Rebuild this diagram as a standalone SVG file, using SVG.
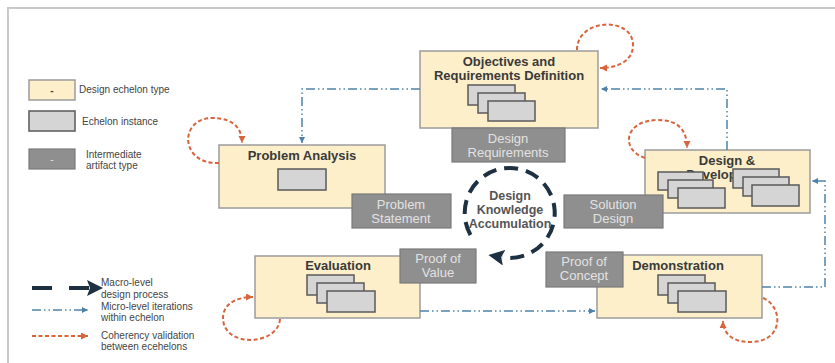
<svg xmlns="http://www.w3.org/2000/svg" width="835" height="363" viewBox="0 0 835 363">
<style>
.echelon{fill:#fcefc9;stroke:#9c9c9c;stroke-width:1.5}
.card{fill:#d5d5d5;stroke:#5a5a5a;stroke-width:1.5}
.artifact{fill:#8f8f8f;stroke:#7a7a7a;stroke-width:1.2}
.title{font-family:"Liberation Sans",Arial,sans-serif;font-size:13px;font-weight:bold;fill:#3a3a3a;text-anchor:middle}
.atext{font-family:"Liberation Sans",Arial,sans-serif;font-size:13px;fill:#e2e2e2;text-anchor:middle}
.ctext{font-family:"Liberation Sans",Arial,sans-serif;font-size:12.5px;font-weight:bold;fill:#555;text-anchor:middle}
.legend{font-family:"Liberation Sans",Arial,sans-serif;font-size:10px;fill:#444}
.micro{fill:none;stroke:#4f82a8;stroke-width:1.5;stroke-dasharray:9 3 1.5 3 1.5 3}
.coh{fill:none;stroke:#d8643e;stroke-width:2;stroke-dasharray:4 2.5}
.macro{fill:none;stroke:#1d3142;stroke-width:4}
</style>
<defs>
<marker id="mBlue" markerUnits="userSpaceOnUse" markerWidth="8" markerHeight="8" refX="6" refY="3" orient="auto"><path d="M0,0 L6,3 L0,6 z" fill="#4f82a8"/></marker>
<marker id="mOrange" markerUnits="userSpaceOnUse" markerWidth="9" markerHeight="9" refX="7" refY="3.5" orient="auto"><path d="M0,0 L7,3.5 L0,7 z" fill="#d8643e"/></marker>
<marker id="mDark" markerUnits="userSpaceOnUse" markerWidth="18" markerHeight="16" refX="2" refY="8" orient="auto"><path d="M0,0 L16,8 L0,16 L3,8 z" fill="#1d3142"/></marker>
</defs>
<rect x="8" y="8" width="850" height="380" fill="none" stroke="#c9c9c9" stroke-width="2"/>

<g id="legend">
<rect x="29" y="80" width="46" height="20" class="echelon"/>
<text x="52" y="94" class="legend" text-anchor="middle" style="font-weight:bold">-</text>
<text x="79" y="93" class="legend">Design echelon type</text>
<rect x="29" y="111" width="46" height="20" class="card"/>
<text x="82" y="125" class="legend">Echelon instance</text>
<rect x="29" y="149" width="46" height="20" class="artifact"/>
<text x="52" y="163" class="legend" text-anchor="middle" style="fill:#e2e2e2">-</text>
<text x="86" y="158" class="legend">Intermediate</text>
<text x="86" y="169" class="legend">artifact type</text>
<path d="M32,288 L89,288" class="macro" stroke-dasharray="20 17" marker-end="url(#mDark)"/>
<text x="101" y="286" class="legend">Macro-level</text>
<text x="101" y="298" class="legend">design process</text>
<path d="M32,310 L88,310" class="micro" marker-end="url(#mBlue)"/>
<text x="101" y="310" class="legend">Micro-level iterations</text>
<text x="101" y="321" class="legend">within echelon</text>
<path d="M32,336 L88,336" class="coh" marker-end="url(#mOrange)"/>
<text x="101" y="339" class="legend">Coherency validation</text>
<text x="101" y="350" class="legend">between ecehelons</text>
</g>

<g id="objectives">
<rect x="420" y="51" width="178" height="77" class="echelon"/>
<text x="509" y="66" class="title">Objectives and</text>
<text x="509" y="80" class="title">Requirements Definition</text>
<rect x="468" y="85" width="47" height="20" class="card"/>
<rect x="478" y="93" width="47" height="20" class="card"/>
<rect x="488" y="101" width="47" height="20" class="card"/>
</g>
<g id="design-requirements">
<rect x="452" y="128" width="113" height="34" class="artifact"/>
<text x="508" y="143" class="atext">Design</text>
<text x="508" y="157" class="atext">Requirements</text>
</g>

<g id="problem-analysis">
<rect x="219" y="145" width="166" height="63" class="echelon"/>
<text x="302" y="160" class="title">Problem Analysis</text>
<rect x="278" y="169" width="48" height="21" class="card"/>
</g>
<g id="problem-statement">
<rect x="352" y="194" width="99" height="34" class="artifact"/>
<text x="401" y="209" class="atext">Problem</text>
<text x="401" y="223" class="atext">Statement</text>
</g>

<g id="design-development">
<rect x="645" y="150" width="165" height="63" class="echelon"/>
<text x="727" y="165" class="title">Design &amp;</text>
<text x="727" y="179" class="title">Development</text>
<rect x="658" y="172" width="45" height="18" class="card"/>
<rect x="668" y="180" width="45" height="18" class="card"/>
<rect x="678" y="188" width="47" height="20" class="card"/>
<rect x="733" y="169" width="46" height="19" class="card"/>
<rect x="743" y="177" width="46" height="19" class="card"/>
<rect x="752" y="185" width="47" height="21" class="card"/>
</g>
<g id="solution-design">
<rect x="564" y="195" width="99" height="33" class="artifact"/>
<text x="613" y="209" class="atext">Solution</text>
<text x="613" y="223" class="atext">Design</text>
</g>

<g id="evaluation">
<rect x="255" y="256" width="165" height="62" class="echelon"/>
<text x="338" y="270" class="title">Evaluation</text>
<rect x="307" y="275" width="47" height="20" class="card"/>
<rect x="317" y="283" width="47" height="20" class="card"/>
<rect x="327" y="291" width="48" height="21" class="card"/>
</g>
<g id="proof-of-value">
<rect x="400" y="249" width="76" height="34" class="artifact"/>
<text x="438" y="263" class="atext">Proof of</text>
<text x="438" y="277" class="atext">Value</text>
</g>

<g id="demonstration">
<rect x="597" y="255" width="165" height="63" class="echelon"/>
<text x="678" y="270" class="title">Demonstration</text>
<rect x="658" y="275" width="47" height="20" class="card"/>
<rect x="668" y="283" width="47" height="20" class="card"/>
<rect x="678" y="291" width="48" height="21" class="card"/>
</g>
<g id="proof-of-concept">
<rect x="546" y="252" width="77" height="35" class="artifact"/>
<text x="584" y="266" class="atext">Proof of</text>
<text x="584" y="280" class="atext">Concept</text>
</g>

<g id="knowledge">
<text x="510" y="200" class="ctext">Design</text>
<text x="510" y="214" class="ctext">Knowledge</text>
<text x="510" y="228" class="ctext">Accumulation</text>
</g>

<g id="connectors">
<path d="M470.5,235 A45,45 0 1 1 502.2,257.3" class="macro" stroke-dasharray="14 8" marker-end="url(#mDark)"/>
<path d="M727,150 L727,89 L601,89" class="micro" marker-end="url(#mBlue)"/>
<path d="M420,89 L302,89 L302,143" class="micro" marker-end="url(#mBlue)"/>
<path d="M762,287 L825,287 L825,181 L812,181" class="micro" marker-end="url(#mBlue)"/>
<path d="M420,311 L595,311" class="micro" marker-end="url(#mBlue)"/>
<path d="M577,50 C577,18 633,16 633,45 C633,62 616,68 600,68" class="coh" marker-end="url(#mOrange)"/>
<path d="M645,158 C620,150 624,120 658,120 C680,120 687,132 687,148" class="coh" marker-end="url(#mOrange)"/>
<path d="M219,163 C180,165 178,118 213,118 C233,118 242,128 242,143" class="coh" marker-end="url(#mOrange)"/>
<path d="M280,319 C278,346 223,348 223,318 C223,303 238,297 253,297" class="coh" marker-end="url(#mOrange)"/>
<path d="M763,298 C783,306 785,342 750,342 C732,342 723,333 723,321" class="coh" marker-end="url(#mOrange)"/>
</g>
</svg>
